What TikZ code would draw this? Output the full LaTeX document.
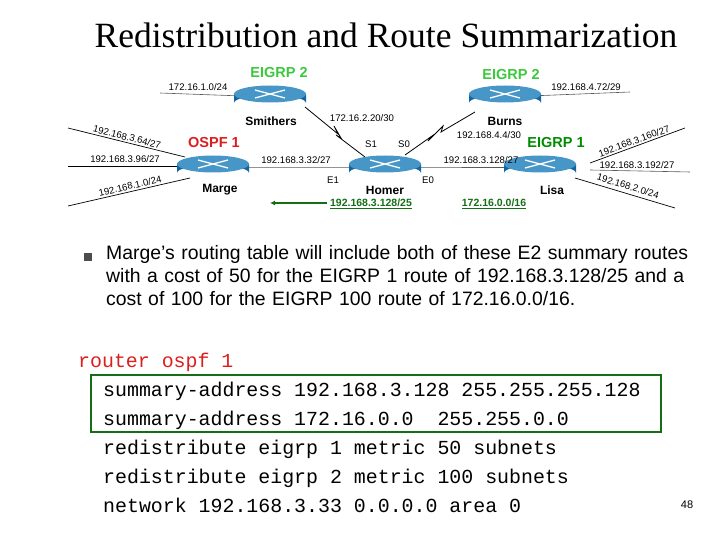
\documentclass[tikz,border=0pt]{standalone}
\usepackage{fontspec}
\setmainfont{Liberation Sans}
\newfontfamily\ttf{Liberation Mono}
\newfontfamily\serf{Liberation Serif}
\usetikzlibrary{arrows.meta,decorations.pathmorphing}
\definecolor{egreen}{RGB}{60,200,60}
\definecolor{dgreen}{RGB}{20,110,20}
\definecolor{ored}{RGB}{220,30,30}
\definecolor{rtop}{RGB}{70,150,200}
\definecolor{rbody}{RGB}{20,100,160}
\begin{document}
\begin{tikzpicture}[x=1pt,y=-1pt,
  lbl/.style={font=\fontsize{9.6}{10}\selectfont,inner sep=0pt},
  rname/.style={font=\bfseries\fontsize{12}{13}\selectfont,inner sep=0pt},
  proto/.style={font=\bfseries\fontsize{14.5}{15}\selectfont,inner sep=0pt},
  net/.style={gray!70!black,line width=0.6pt},
  code/.style={font=\ttf\fontsize{19.9}{22}\selectfont,anchor=base west,inner sep=0pt}]
\useasboundingbox (0,0) rectangle (720,540);
\newcommand{\router}[2]{%
  \fill[rbody] (#1-36,#2-3) -- (#1-36,#2+6) arc[start angle=180,end angle=360,x radius=36,y radius=8] -- (#1+36,#2-3) -- cycle;
  \fill[rtop] (#1,#2-3) ellipse[x radius=36,y radius=8.5];
  \draw[white,line width=1.3pt] (#1-15,#2-7) -- (#1+15,#2+1) (#1-15,#2+1) -- (#1+15,#2-7);}
% connectors
\coordinate (smi) at (270,97); \coordinate (bur) at (505,97);
\coordinate (mar) at (213,167); \coordinate (hom) at (385,167); \coordinate (lis) at (540,167);
\draw[net] (160,93) -- (smi);
\draw[net] (bur) -- (630,92);
\draw[net] (mar) -- (hom) -- (lis);
\draw[black,line width=0.7pt] (68,128) -- (185,157);
\draw[black,line width=0.7pt] (68,166) -- (180,166);
\draw[black,line width=0.7pt] (68,206) -- (190,178);
\draw[black,line width=0.7pt] (590,163) -- (685,128);
\draw[net] (590,170) -- (690,172);
\draw[black,line width=0.7pt] (575,178) -- (675,208);
\draw[black,line width=0.8pt] (305,107) -- (338,134) -- (334,126) -- (341,138) -- (336,135) -- (365,157);
\draw[black,line width=0.8pt] (405,155) -- (432,136) -- (428,141) -- (443,126) -- (441,132) -- (475,112);
% routers
\router{270}{97}\router{505}{97}\router{213}{167}\router{385}{167}\router{540}{167}
\node[rname] (n1) at (271,121) {Smithers};
\node[rname] (n2) at (505,121) {Burns};
\node[rname] (n3) at (220,190) {Marge};
\node[rname] (n4) at (385,190) {Homer};
\node[rname] (n5) at (552,190) {Lisa};
\node[proto,egreen] (p1) at (279,73) {EIGRP 2};
\node[proto,egreen] (p2) at (511,75) {EIGRP 2};
\node[proto,ored] (p3) at (214,143) {OSPF 1};
\node[proto,green!55!black] (p4) at (556,143) {EIGRP 1};
\node[lbl] (l1) at (198,87) {172.16.1.0/24};
\node[lbl] (l2) at (362,118) {172.16.2.20/30};
\node[lbl] (l3) at (586,87) {192.168.4.72/29};
\node[lbl] (l4) at (489,135) {192.168.4.4/30};
\node[lbl] (l5) at (296,160) {192.168.3.32/27};
\node[lbl] (l6) at (481,160) {192.168.3.128/27};
\node[lbl,rotate=-14] (l7) at (127,137) {192.168.3.64/27};
\node[lbl] (l8) at (125,159) {192.168.3.96/27};
\node[lbl,rotate=13] (l9) at (130,186) {192.168.1.0/24};
\node[lbl,rotate=20] (l10) at (634,141) {192.168.3.160/27};
\node[lbl] (l11) at (637,165) {192.168.3.192/27};
\node[lbl,rotate=-17] (l12) at (628,186) {192.168.2.0/24};
\node[lbl] (s1) at (371,144) {S1};
\node[lbl] (s0) at (404,144) {S0};
\node[lbl] (e1) at (333,180) {E1};
\node[lbl] (e0) at (428,180) {E0};
\node[font=\bfseries\fontsize{10.5}{11}\selectfont,dgreen,inner sep=0pt] (sum1) at (371,204) {\underline{192.168.3.128/25}};
\node[font=\bfseries\fontsize{10.5}{11}\selectfont,dgreen,inner sep=0pt] (sum2) at (494,204) {\underline{172.16.0.0/16}};
\coordinate (arrend) at (270,203);
\draw[dgreen,line width=2pt,-{Latex[length=5pt,width=5pt]}] (327,203) -- (arrend);
% title
\node[font=\serf\fontsize{35.5}{38}\selectfont,inner sep=0pt] (title) at (386,35) {Redistribution and Route Summarization};
% bullet
\fill[gray!60!black] (84,253) rectangle (92,261);
\node[anchor=north west,align=left,font=\fontsize{19.4}{23}\selectfont,inner sep=0pt,text width=620pt] (body) at (106,245)
 {Marge’s routing table will include both of these E2 summary routes\\with a cost of 50 for the EIGRP 1 route of 192.168.3.128/25 and a\\cost of 100 for the EIGRP 100 route of 172.16.0.0/16.};
% code
\node[code,ored] (c0) at (78,367) {router ospf 1};
\node[code] (c1) at (103,396) {summary-address 192.168.3.128 255.255.255.128};
\node[code] (c2) at (103,425) {summary-address 172.16.0.0\ \ 255.255.0.0};
\node[code] (c3) at (103,454) {redistribute eigrp 1 metric 50 subnets};
\node[code] (c4) at (103,483) {redistribute eigrp 2 metric 100 subnets};
\node[code] (c5) at (103,512) {network 192.168.3.33 0.0.0.0 area 0};
\draw[dgreen,line width=2pt] (91,375) rectangle (661,432);
\node[font=\fontsize{11}{12}\selectfont,inner sep=0pt] (pg) at (687,505) {48};
\end{tikzpicture}
\end{document}
